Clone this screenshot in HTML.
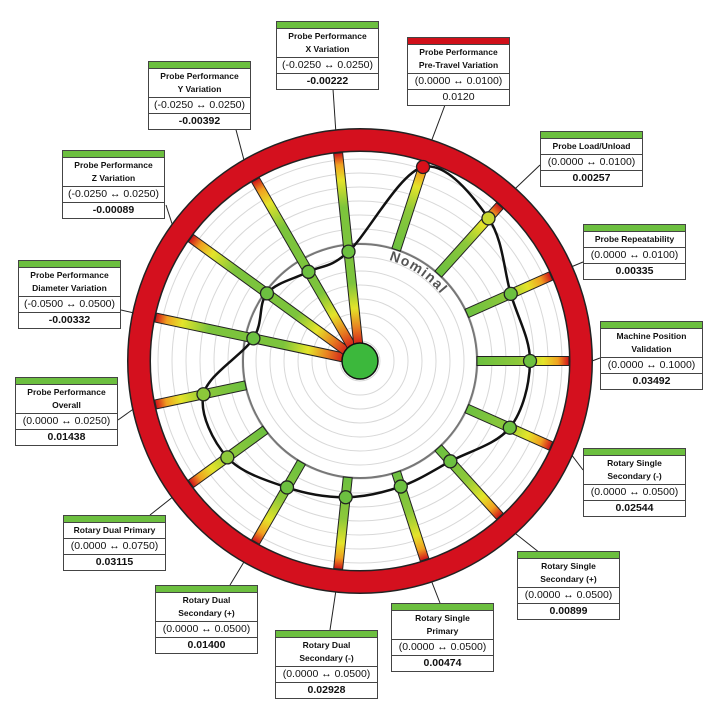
<!DOCTYPE html>
<html><head><meta charset="utf-8"><style>
html,body{margin:0;padding:0;background:#fff;}
#wrap{position:relative;width:720px;height:720px;overflow:hidden;font-family:"Liberation Sans",sans-serif;}
.box{position:absolute;width:101px;border:1px solid #444;background:#fff;font-family:"Liberation Sans",sans-serif;color:#111;text-align:center;}
.bar{height:6px;background:#6cbf3f;border-bottom:1px solid #444;}
.bar.red{background:#d0101a;}
.t{font-size:8.5px;font-weight:bold;line-height:13px;padding:1px 0;border-bottom:1px solid #444;}
.r{font-size:10.5px;line-height:15px;border-bottom:1px solid #444;}
.v{font-size:10.5px;font-weight:bold;line-height:15px;}
</style></head><body><div id="wrap">
<svg id="s" width="720" height="720" style="position:absolute;left:0;top:0">
<defs>
<linearGradient id="g0" x1="0" y1="1" x2="0" y2="0">
<stop offset="0" stop-color="#6cc040"/><stop offset="0.45" stop-color="#8cc83a"/><stop offset="0.72" stop-color="#e4e42a"/><stop offset="0.88" stop-color="#f0a020"/><stop offset="1" stop-color="#d0101a"/>
</linearGradient>
<linearGradient id="g1" x1="0" y1="1" x2="0" y2="0">
<stop offset="0" stop-color="#d0101a"/><stop offset="0.1" stop-color="#e88020"/><stop offset="0.2" stop-color="#e4e42a"/><stop offset="0.33" stop-color="#7cc43c"/><stop offset="0.72" stop-color="#7cc43c"/><stop offset="0.86" stop-color="#e4e42a"/><stop offset="0.94" stop-color="#f0a020"/><stop offset="1" stop-color="#d0101a"/>
</linearGradient>
<path id="nomArc" d=""/>
</defs>
<g id="g"></g>
</svg>
<div class="box" style="left:276px;top:21px"><div class="bar"></div><div class="t">Probe Performance<br>X Variation</div><div class="r">(-0.0250 ↔ 0.0250)</div><div class="v">-0.00222</div></div>
<div class="box" style="left:407px;top:37px"><div class="bar red"></div><div class="t">Probe Performance<br>Pre-Travel Variation</div><div class="r">(0.0000 ↔ 0.0100)</div><div class="v" style="font-weight:normal">0.0120</div></div>
<div class="box" style="left:540px;top:131px"><div class="bar"></div><div class="t">Probe Load/Unload</div><div class="r">(0.0000 ↔ 0.0100)</div><div class="v">0.00257</div></div>
<div class="box" style="left:583px;top:224px"><div class="bar"></div><div class="t">Probe Repeatability</div><div class="r">(0.0000 ↔ 0.0100)</div><div class="v">0.00335</div></div>
<div class="box" style="left:600px;top:321px"><div class="bar"></div><div class="t">Machine Position<br>Validation</div><div class="r">(0.0000 ↔ 0.1000)</div><div class="v">0.03492</div></div>
<div class="box" style="left:583px;top:448px"><div class="bar"></div><div class="t">Rotary Single<br>Secondary (-)</div><div class="r">(0.0000 ↔ 0.0500)</div><div class="v">0.02544</div></div>
<div class="box" style="left:517px;top:551px"><div class="bar"></div><div class="t">Rotary Single<br>Secondary (+)</div><div class="r">(0.0000 ↔ 0.0500)</div><div class="v">0.00899</div></div>
<div class="box" style="left:391px;top:603px"><div class="bar"></div><div class="t">Rotary Single<br>Primary</div><div class="r">(0.0000 ↔ 0.0500)</div><div class="v">0.00474</div></div>
<div class="box" style="left:275px;top:630px"><div class="bar"></div><div class="t">Rotary Dual<br>Secondary (-)</div><div class="r">(0.0000 ↔ 0.0500)</div><div class="v">0.02928</div></div>
<div class="box" style="left:155px;top:585px"><div class="bar"></div><div class="t">Rotary Dual<br>Secondary (+)</div><div class="r">(0.0000 ↔ 0.0500)</div><div class="v">0.01400</div></div>
<div class="box" style="left:63px;top:515px"><div class="bar"></div><div class="t">Rotary Dual Primary</div><div class="r">(0.0000 ↔ 0.0750)</div><div class="v">0.03115</div></div>
<div class="box" style="left:15px;top:377px"><div class="bar"></div><div class="t">Probe Performance<br>Overall</div><div class="r">(0.0000 ↔ 0.0250)</div><div class="v">0.01438</div></div>
<div class="box" style="left:18px;top:260px"><div class="bar"></div><div class="t">Probe Performance<br>Diameter Variation</div><div class="r">(-0.0500 ↔ 0.0500)</div><div class="v">-0.00332</div></div>
<div class="box" style="left:62px;top:150px"><div class="bar"></div><div class="t">Probe Performance<br>Z Variation</div><div class="r">(-0.0250 ↔ 0.0250)</div><div class="v">-0.00089</div></div>
<div class="box" style="left:148px;top:61px"><div class="bar"></div><div class="t">Probe Performance<br>Y Variation</div><div class="r">(-0.0250 ↔ 0.0250)</div><div class="v">-0.00392</div></div>
</div>
<script>
var cx=360,cy=361,ns="http://www.w3.org/2000/svg",G=document.getElementById('g');
function el(t,a,p){var e=document.createElementNS(ns,t);for(var k in a)e.setAttribute(k,a[k]);(p||G).appendChild(e);return e;}
function pt(a,r){var t=a*Math.PI/180;return [cx+r*Math.sin(t),cy-r*Math.cos(t)];}
var data=[[18,204,0,'#d8101a'],[42,192,0,'#c8d830'],[66,165,0,'#6cc040'],[90,170,0,'#6cc040'],[114,164,0,'#6cc040'],[138,135,0,'#6cc040'],[162,132,0,'#6cc040'],[186,137,0,'#6cc040'],[210,146,0,'#6cc040'],[234,164,0,'#8cc83a'],[258,160,0,'#8cc83a'],[282,109,1,'#6cc040'],[306,115,1,'#6cc040'],[330,103,1,'#6cc040'],[354,110,1,'#6cc040']];
var anchors=[[445,105],[540,165],[583,262],[600,358],[583,470],[540,553],[440,603],[330,630],[230,585],[150,515],[118,420],[121,310],[166,205],[235,126],[333,89]];
data.forEach(function(d,i){var p=pt(d[0],232);el('line',{x1:anchors[i][0],y1:anchors[i][1],x2:p[0],y2:p[1],stroke:'#222','stroke-width':1});});
for(var r=20;r<=206;r+=14)el('circle',{cx:cx,cy:cy,r:r,fill:'none',stroke:'#d8d8d8','stroke-width':1});
el('circle',{cx:cx,cy:cy,r:117,fill:'none',stroke:'#777','stroke-width':2});
el('circle',{cx:cx,cy:cy,r:221,fill:'none',stroke:'#222','stroke-width':24});
el('circle',{cx:cx,cy:cy,r:221,fill:'none',stroke:'#d4101e','stroke-width':21});
data.forEach(function(d){var sym=d[2],r0=sym?14:117,r1=209;
 var g=el('g',{transform:'rotate('+d[0]+' '+cx+' '+cy+')'});
 el('rect',{x:cx-4.5,y:cy-r1,width:9,height:r1-r0,fill:'url(#g'+sym+')',stroke:'#222','stroke-width':1},g);});
var P=data.map(function(d){return pt(d[0],d[1]);}),n=P.length,s='M'+P[0][0]+','+P[0][1];
for(var i=0;i<n;i++){var p0=P[(i-1+n)%n],p1=P[i],p2=P[(i+1)%n],p3=P[(i+2)%n];
 s+=' C'+(p1[0]+(p2[0]-p0[0])/6)+','+(p1[1]+(p2[1]-p0[1])/6)+' '+(p2[0]-(p3[0]-p1[0])/6)+','+(p2[1]-(p3[1]-p1[1])/6)+' '+p2[0]+','+p2[1];}
el('path',{d:s+'Z',fill:'none',stroke:'#111','stroke-width':2.5});
data.forEach(function(d){var p=pt(d[0],d[1]);el('circle',{cx:p[0],cy:p[1],r:6.5,fill:d[3],stroke:'#222','stroke-width':1.3});});
el('circle',{cx:cx,cy:cy,r:18,fill:'#3cb83c',stroke:'#111','stroke-width':1.5});
var a0=pt(16,105),a1=pt(85,105);
document.getElementById('nomArc').setAttribute('d','M'+a0[0]+','+a0[1]+' A105,105 0 0 1 '+a1[0]+','+a1[1]);
var t=el('text',{'font-family':'Liberation Sans, sans-serif','font-size':'14','font-weight':'bold',fill:'#555','letter-spacing':'1.2'});
var tp=el('textPath',{href:'#nomArc'},t);tp.setAttributeNS('http://www.w3.org/1999/xlink','xlink:href','#nomArc');tp.textContent='Nominal';
</script>
</body></html>
